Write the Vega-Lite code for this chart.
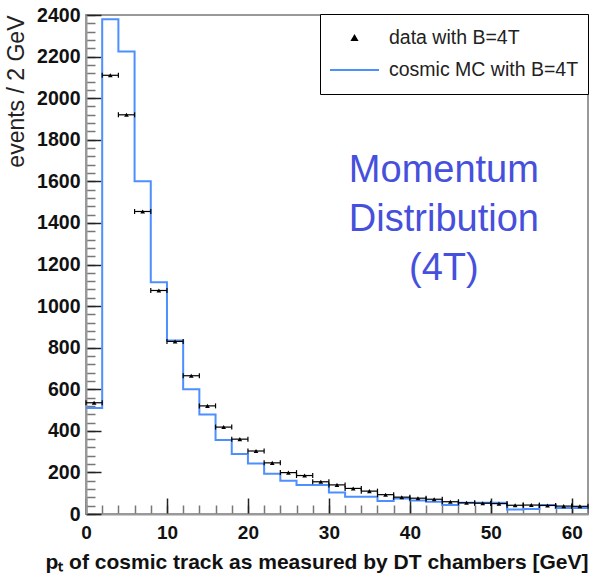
{
  "$schema": "https://vega.github.io/schema/vega-lite/v6.json",
  "autosize": {"type": "none"},
  "width": 502,
  "height": 499,
  "padding": {"left": 86, "top": 15, "right": 1, "bottom": 64},
  "config": {
    "font": "Liberation Sans",
    "view": {"stroke": "#999", "strokeWidth": 2},
    "legend": {
      "orient": "none",
      "legendX": 234,
      "legendY": -1,
      "title": null,
      "padding": 9,
      "strokeColor": "#000",
      "fillColor": "#fff",
      "labelFont": "Liberation Sans",
      "labelFontSize": 19.5,
      "labelColor": "#222",
      "labelOffset": 9,
      "labelLimit": 400,
      "clipHeight": 30,
      "rowPadding": 2,
      "symbolStrokeWidth": 2
    }
  },
  "datasets": {
    "mc": [
      {"edge": 0, "events": 510},
      {"edge": 2, "events": 2380},
      {"edge": 4, "events": 2225},
      {"edge": 6, "events": 1600},
      {"edge": 8, "events": 1115},
      {"edge": 10, "events": 835},
      {"edge": 12, "events": 600},
      {"edge": 14, "events": 478},
      {"edge": 16, "events": 356},
      {"edge": 18, "events": 288},
      {"edge": 20, "events": 243},
      {"edge": 22, "events": 193},
      {"edge": 24, "events": 160},
      {"edge": 26, "events": 139},
      {"edge": 28, "events": 139},
      {"edge": 30, "events": 104},
      {"edge": 32, "events": 83},
      {"edge": 34, "events": 83},
      {"edge": 36, "events": 62},
      {"edge": 38, "events": 75},
      {"edge": 40, "events": 65},
      {"edge": 42, "events": 59},
      {"edge": 44, "events": 43},
      {"edge": 46, "events": 54},
      {"edge": 48, "events": 54},
      {"edge": 50, "events": 54},
      {"edge": 52, "events": 22},
      {"edge": 54, "events": 24},
      {"edge": 56, "events": 43},
      {"edge": 58, "events": 29},
      {"edge": 60, "events": 29},
      {"edge": 62, "events": 29}
    ],
    "obs": [
      {"pt": 1, "lo": 0, "hi": 2, "events": 535},
      {"pt": 3, "lo": 2, "hi": 4, "events": 2110},
      {"pt": 5, "lo": 4, "hi": 6, "events": 1920},
      {"pt": 7, "lo": 6, "hi": 8, "events": 1455},
      {"pt": 9, "lo": 8, "hi": 10, "events": 1075},
      {"pt": 11, "lo": 10, "hi": 12, "events": 830},
      {"pt": 13, "lo": 12, "hi": 14, "events": 665},
      {"pt": 15, "lo": 14, "hi": 16, "events": 520},
      {"pt": 17, "lo": 16, "hi": 18, "events": 418},
      {"pt": 19, "lo": 18, "hi": 20, "events": 360},
      {"pt": 21, "lo": 20, "hi": 22, "events": 303},
      {"pt": 23, "lo": 22, "hi": 24, "events": 246},
      {"pt": 25, "lo": 24, "hi": 26, "events": 199},
      {"pt": 27, "lo": 26, "hi": 28, "events": 185},
      {"pt": 29, "lo": 28, "hi": 30, "events": 155},
      {"pt": 31, "lo": 30, "hi": 32, "events": 140},
      {"pt": 33, "lo": 32, "hi": 34, "events": 123},
      {"pt": 35, "lo": 34, "hi": 36, "events": 110},
      {"pt": 37, "lo": 36, "hi": 38, "events": 93},
      {"pt": 39, "lo": 38, "hi": 40, "events": 81},
      {"pt": 41, "lo": 40, "hi": 42, "events": 76},
      {"pt": 43, "lo": 42, "hi": 44, "events": 71},
      {"pt": 45, "lo": 44, "hi": 46, "events": 59},
      {"pt": 47, "lo": 46, "hi": 48, "events": 54},
      {"pt": 49, "lo": 48, "hi": 50, "events": 52},
      {"pt": 51, "lo": 50, "hi": 52, "events": 50},
      {"pt": 53, "lo": 52, "hi": 54, "events": 42},
      {"pt": 55, "lo": 54, "hi": 56, "events": 43},
      {"pt": 57, "lo": 56, "hi": 58, "events": 41},
      {"pt": 59, "lo": 58, "hi": 60, "events": 38},
      {"pt": 61, "lo": 60, "hi": 62, "events": 37}
    ],
    "note": [
      {"pt": 44.2, "events": 1596, "label": "Momentum\nDistribution\n(4T)"}
    ]
  },
  "resolve": {"axis": {"x": "independent", "y": "independent"}},
  "layer": [
    {
      "data": {"name": "mc"},
      "mark": {"type": "line", "interpolate": "step-after", "strokeWidth": 2},
      "encoding": {
        "x": {
          "field": "edge", "type": "quantitative",
          "scale": {"domain": [0, 62], "nice": false, "zero": false},
          "axis": {
            "orient": "bottom", "values": [0,2,4,6,8,10,12,14,16,18,20,22,24,26,28,30,32,34,36,38,40,42,44,46,48,50,52,54,56,58,60,62],
            "labels": false, "domain": false, "grid": false, "title": null,
            "tickSize": -9, "tickColor": "#777", "tickWidth": 1.5
          }
        },
        "y": {
          "field": "events", "type": "quantitative",
          "scale": {"domain": [0, 2400], "nice": false},
          "axis": {
            "orient": "left", "values": [0,40,80,120,160,200,240,280,320,360,400,440,480,520,560,600,640,680,720,760,800,840,880,920,960,1000,1040,1080,1120,1160,1200,1240,1280,1320,1360,1400,1440,1480,1520,1560,1600,1640,1680,1720,1760,1800,1840,1880,1920,1960,2000,2040,2080,2120,2160,2200,2240,2280,2320,2360,2400],
            "labels": false, "domain": false, "grid": false, "title": null,
            "tickSize": -9, "tickColor": "#777", "tickWidth": 1.5
          }
        },
        "color": {
          "datum": "cosmic MC with B=4T", "type": "nominal",
          "scale": {"domain": ["data with B=4T", "cosmic MC with B=4T"], "range": ["#000000", "#4d8fff"]}
        }
      }
    },
    {
      "data": {"name": "obs"},
      "mark": {"type": "rule", "color": "#000", "strokeWidth": 1.2},
      "encoding": {
        "x": {"field": "lo", "type": "quantitative", "scale": {"domain": [0, 62], "nice": false, "zero": false}, "axis": null},
        "x2": {"field": "hi"},
        "y": {"field": "events", "type": "quantitative", "scale": {"domain": [0, 2400], "nice": false}, "axis": null}
      }
    },
    {
      "data": {"name": "obs"},
      "mark": {"type": "tick", "orient": "vertical", "color": "#000", "size": 5, "thickness": 1.2, "opacity": 1},
      "encoding": {
        "x": {"field": "lo", "type": "quantitative", "scale": {"domain": [0, 62], "nice": false, "zero": false}, "axis": null},
        "y": {"field": "events", "type": "quantitative", "scale": {"domain": [0, 2400], "nice": false}, "axis": null}
      }
    },
    {
      "data": {"name": "obs"},
      "mark": {"type": "tick", "orient": "vertical", "color": "#000", "size": 5, "thickness": 1.2, "opacity": 1},
      "encoding": {
        "x": {"field": "hi", "type": "quantitative", "scale": {"domain": [0, 62], "nice": false, "zero": false}, "axis": null},
        "y": {"field": "events", "type": "quantitative", "scale": {"domain": [0, 2400], "nice": false}, "axis": null}
      }
    },
    {
      "data": {"name": "obs"},
      "mark": {"type": "point", "filled": true, "opacity": 1},
      "encoding": {
        "x": {
          "field": "pt", "type": "quantitative",
          "scale": {"domain": [0, 62], "nice": false, "zero": false},
          "axis": {
            "orient": "bottom", "values": [0, 10, 20, 30, 40, 50, 60], "format": "d",
            "domain": true, "domainColor": "#999", "domainWidth": 2,
            "grid": false, "tickSize": -16, "tickColor": "#222", "tickWidth": 1.5,
            "labelFont": "Liberation Sans", "labelFontSize": 19, "labelFontWeight": "bold", "labelColor": "#111",
            "labelPadding": 25, "labelFlush": false, "labelOverlap": false,
            "title": "pₜ of cosmic track as measured by DT chambers [GeV]",
            "titleFont": "Liberation Sans", "titleFontSize": 21, "titleFontWeight": "bold", "titleColor": "#111",
            "titleAnchor": "end", "titlePadding": 9
          }
        },
        "y": {
          "field": "events", "type": "quantitative",
          "scale": {"domain": [0, 2400], "nice": false},
          "axis": {
            "orient": "left", "values": [0,200,400,600,800,1000,1200,1400,1600,1800,2000,2200,2400], "format": "d",
            "domain": true, "domainColor": "#999", "domainWidth": 2,
            "grid": false, "tickSize": -15, "tickColor": "#222", "tickWidth": 1.5,
            "labelFont": "Liberation Sans", "labelFontSize": 19.5, "labelFontWeight": "bold", "labelColor": "#111",
            "labelPadding": 21, "labelFlush": false, "labelOverlap": false,
            "title": "events / 2 GeV",
            "titleFont": "Liberation Sans", "titleFontSize": 23, "titleFontWeight": "normal", "titleColor": "#222",
            "titleAnchor": "end", "titlePadding": 8
          }
        },
        "color": {
          "datum": "data with B=4T", "type": "nominal",
          "scale": {"domain": ["data with B=4T", "cosmic MC with B=4T"], "range": ["#000000", "#4d8fff"]},
          "legend": {
            "encode": {"symbols": {"update": {"stroke": {"scale": "color", "field": "value"}, "strokeWidth": {"value": 2}}}}
          }
        },
        "shape": {
          "datum": "data with B=4T", "type": "nominal",
          "scale": {"domain": ["data with B=4T", "cosmic MC with B=4T"], "range": ["triangle-up", "stroke"]}
        },
        "size": {
          "datum": "data with B=4T", "type": "nominal",
          "scale": {"type": "ordinal", "domain": ["data with B=4T", "cosmic MC with B=4T"], "range": [22, 2401]}
        }
      }
    },
    {
      "data": {"name": "note"},
      "mark": {"type": "text", "align": "center", "baseline": "alphabetic", "lineBreak": "\n", "lineHeight": 49, "font": "Liberation Sans", "fontSize": 38, "color": "#4650dc"},
      "encoding": {
        "x": {"field": "pt", "type": "quantitative", "scale": {"domain": [0, 62], "nice": false, "zero": false}, "axis": null},
        "y": {"field": "events", "type": "quantitative", "scale": {"domain": [0, 2400], "nice": false}, "axis": null},
        "text": {"field": "label"}
      }
    }
  ]
}
